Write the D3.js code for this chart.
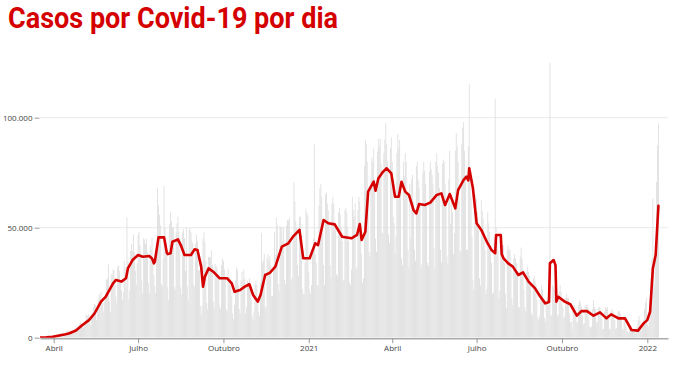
<!DOCTYPE html>
<html><head><meta charset="utf-8">
<script src="https://cdn.jsdelivr.net/npm/d3@7"></script>
<style>body{margin:0;background:#fff}svg{display:block}</style>
</head><body><svg id="chart" width="674" height="369"></svg>
<script>
// ---------- DATA ----------
const title = "Casos por Covid-19 por dia";
const startDate = "2020-03-17";
// daily new cases, in thousands, one value per day from startDate
const dailyCasesThousands = [
0.1,0.1,0.2,0.3,0.2,0.4,0.3,
0.3,0.2,0.5,0.5,0.5,0.4,0.3,
1.1,1.1,1.1,1.1,1.2,0.9,0.9,
1.7,2.2,1.9,1.8,1.1,1.4,1.3,
1.8,3.1,2.1,3.3,2.9,2.1,1.9,
2.3,2.7,3.7,3.5,5.5,3.4,4.6,
5.4,6.3,7.2,6.2,5.0,4.6,6.6,
6.9,10.5,9.9,10.2,10.6,6.8,5.6,
9.3,11.4,13.9,15.3,14.9,7.9,13.1,
17.4,20.0,18.5,20.8,16.5,15.8,11.7,
16.3,20.6,26.4,26.9,33.3,16.4,11.6,
28.9,28.6,30.9,30.8,27.1,18.9,15.7,
32.1,32.9,30.4,26.0,21.7,17.1,20.6,
34.9,32.2,22.8,54.8,34.7,17.5,21.4,
39.4,42.7,39.5,46.9,38.7,30.5,24.1,
33.8,46.7,48.1,42.2,37.9,26.1,20.2,
45.3,44.6,42.6,45.0,39.0,24.8,20.3,
41.9,39.9,45.4,34.2,28.5,23.5,20.3,
41.0,67.9,60.0,55.9,51.1,24.6,23.3,
36.0,69.1,50.0,45.0,38.0,23.0,17.0,
51.6,57.2,53.1,50.2,49.9,23.1,22.0,
48.0,52.0,55.0,48.0,40.0,23.0,19.4,
47.8,49.3,45.3,30.4,50.0,23.4,17.0,
49.0,50.0,48.0,44.0,43.0,24.0,23.0,
42.7,46.9,43.8,30.6,30.7,14.5,10.3,
14.3,45.0,48.0,43.7,35.0,16.0,13.0,
36.7,36.8,36.3,39.8,33.1,16.4,13.4,
33.5,32.8,31.9,28.4,29.0,14.3,13.2,
33.0,36.0,35.0,31.0,27.0,13.0,12.0,
31.4,27.7,27.4,26.0,19.2,11.0,8.4,
15.0,26.0,32.0,31.0,24.0,13.0,11.0,
26.0,30.0,26.0,31.0,27.0,11.0,14.0,
26.0,24.0,27.0,23.0,17.0,10.0,8.0,
12.0,24.0,26.0,24.0,16.0,12.0,10.0,
25.0,47.6,33.9,35.3,38.3,14.1,13.4,
36.0,38.0,35.0,37.0,33.0,19.0,19.0,
31.1,47.9,37.6,54.6,51.1,24.5,21.1,
50.9,49.9,50.4,43.8,50.0,26.3,24.3,
51.1,53.4,53.3,54.4,43.9,25.9,27.3,
44.0,70.6,62.0,53.0,50.0,33.0,28.0,
55.0,55.0,46.7,22.3,20.0,20.0,34.0,
58.7,56.8,55.6,30.0,22.0,20.0,24.0,
40.0,45.0,87.8,38.0,34.0,24.0,24.0,
60.0,68.0,70.0,64.0,52.0,33.0,24.0,
65.0,66.0,61.0,58.0,53.0,33.0,27.0,
61.0,64.0,61.0,52.0,50.0,29.0,28.0,
57.0,59.0,56.0,50.0,44.0,26.0,26.0,
58.0,59.0,57.0,50.0,44.0,25.0,24.0,
31.0,64.0,58.0,55.0,61.0,31.0,32.0,
58.0,64.0,62.0,52.0,38.0,25.0,27.0,
78.0,90.0,88.0,80.0,65.0,39.0,37.0,
72.0,82.0,80.0,86.0,72.0,45.0,39.0,
84.5,90.3,86.9,90.6,79.0,47.8,47.3,
84.0,90.0,97.6,88.0,80.0,47.0,43.0,
86.0,91.0,80.0,55.0,52.0,38.0,46.0,
84.0,92.6,86.0,90.0,68.0,36.0,33.0,
80.0,73.5,84.0,80.0,65.0,40.0,32.0,
70.0,45.0,72.0,74.0,62.0,40.0,35.0,
78.0,80.0,72.0,68.0,60.0,32.0,33.5,
75.0,80.0,76.0,70.0,60.0,34.0,32.7,
75.5,79.9,76.7,73.9,70.0,41.0,31.0,
80.0,84.0,78.0,75.0,68.0,40.0,34.2,
79.0,81.0,80.0,70.0,62.0,37.0,33.4,
72.0,85.0,52.0,65.0,57.0,38.0,47.5,
85.0,93.0,87.0,80.0,63.0,39.0,39.5,
88.0,95.4,98.0,85.0,73.0,40.0,40.0,
87.0,115.2,74.0,64.0,46.0,26.0,22.0,
64.0,65.0,63.0,57.0,49.0,27.0,23.6,
62.5,57.7,54.0,48.0,40.0,20.0,22.3,
57.0,52.0,48.0,42.0,34.0,20.0,20.7,
45.0,108.7,50.0,44.0,40.0,18.0,21.2,
46.0,46.0,42.0,42.0,34.0,20.0,13.6,
40.0,42.0,40.0,40.0,32.0,18.0,14.8,
36.0,38.0,36.0,34.0,30.0,14.0,13.6,
37.0,41.0,36.0,31.0,22.0,14.0,12.2,
30.0,32.0,30.0,28.0,24.0,11.0,10.2,
27.0,28.0,26.0,24.0,17.0,9.0,8.3,
10.0,20.0,24.0,22.0,17.0,9.0,7.2,
16.0,18.0,17.0,15.0,150.1,10.0,10.2,
24.0,23.0,22.0,17.0,16.0,10.0,10.5,
21.0,24.0,21.0,16.0,14.0,9.0,9.8,
18.0,20.0,18.0,18.0,11.0,7.0,7.4,
4.0,13.0,15.0,14.0,11.0,7.0,7.4,
15.0,17.0,16.0,14.0,10.0,6.0,6.7,
14.0,15.0,15.0,14.0,8.0,5.0,4.6,
5.0,13.0,17.0,14.0,13.0,7.0,7.3,
13.0,14.0,14.0,12.0,9.0,4.0,4.0,
12.0,14.0,13.0,14.0,10.0,4.0,3.7,
12.0,13.0,12.0,11.0,8.0,4.0,4.4,
11.0,12.0,12.0,11.0,8.0,3.6,4.0,
10.0,8.0,5.0,3.0,3.0,2.0,4.0,
3.0,4.0,4.0,4.0,3.0,2.0,3.1,
5.0,8.0,10.0,8.0,4.0,3.0,4.7,
8.0,13.0,16.0,18.0,6.0,5.0,7.5,
18.0,27.0,35.8,63.3,33.0,24.0,34.7,
70.8,87.5,97.4
];
// 7-day moving average (thousands) at these day offsets from startDate
const avgDayIndex = [0,7,14,21,28,32,39,46,53,59,
66,71,79,82,88,93,95,100,106,111,
118,121,123,124,128,134,137,138,141,143,
149,152,156,163,167,170,174,176,178,182,
187,194,202,207,210,216,221,226,230,235,
238,243,248,254,261,268,273,280,284,291,
297,300,306,311,318,326,336,342,345,347,
351,354,360,362,365,370,374,379,383,387,
390,394,398,403,406,409,415,421,428,433,
437,442,448,451,457,460,462,463,467,471,
476,482,487,491,492,497,498,500,505,510,
516,521,527,534,539,545,549,550,554,556,
557,559,566,572,579,584,590,597,604,611,
616,624,631,638,645,651,655,658,661,664,
667];
const avgThousands = [0.1,0.2,0.4,1.0,1.6,2.0,3.3,5.8,8.0,11.0,
16.4,18.6,24.7,26.2,25.5,27.0,31.5,35.3,37.6,36.8,
37.1,36.0,33.8,34.5,45.6,45.6,38.5,38.0,38.4,43.6,
44.7,42.1,37.6,37.6,40.2,39.9,32.3,23.2,27.7,31.5,
30.0,27.0,27.0,24.7,20.9,21.7,23.2,24.3,19.4,16.4,
19.4,28.5,29.5,32.3,41.4,42.9,45.9,49.0,36.1,36.1,
42.9,42.1,53.5,52.0,51.5,45.9,45.2,46.7,51.7,44.4,
48.2,66.4,70.9,66.8,72.4,75.4,77.0,74.7,64.1,64.1,
70.9,66.4,64.9,58.0,56.5,60.8,60.3,61.4,64.9,65.6,
60.3,65.3,58.8,67.1,71.7,73.2,71.5,77.0,67.9,52.0,
49.0,43.6,39.9,38.4,46.7,46.7,38.0,36.1,33.8,32.3,
28.5,29.7,25.5,22.4,19.1,15.6,16.2,33.8,35.3,33.0,
16.4,18.6,16.4,15.2,10.0,12.1,12.1,10.0,11.5,8.8,
10.6,8.8,8.8,3.5,3.2,6.5,8.0,11.8,31.5,37.6,
60.0];
const yTickValues = [0, 50000, 100000];
const yTickLabels = ["0", "50.000", "100.000"];
const xTickDates = ["2020-04-01","2020-07-01","2020-10-01","2021-01-01","2021-04-01","2021-07-01","2021-10-01","2022-01-01"];
const xTickLabels = ["Abril","Julho","Outubro","2021","Abril","Julho","Outubro","2022"];

// ---------- CHART ----------
const RED = "#d50000";
const svg = d3.select("#chart");
const parse = d3.utcParse("%Y-%m-%d");
const start = parse(startDate);
const DAY = 864e5;
const dayDate = i => new Date(start.getTime() + i * DAY);

const plotLeft = 40, plotRight = 668, plotTop = 62.7, plotBottom = 337.7;
const xCal = d3.scaleUtc().domain([parse("2020-04-01"), parse("2022-01-01")]).range([53.7, 647.3]);
const x = d3.scaleUtc().domain([xCal.invert(plotLeft), xCal.invert(plotRight)]).range([plotLeft, plotRight]);
const y = d3.scaleLinear().domain([0, 125000]).range([plotBottom, plotTop]);

svg.append("defs").append("clipPath").attr("id", "plotclip")
  .append("rect").attr("x", plotLeft).attr("y", plotTop)
  .attr("width", plotRight - plotLeft).attr("height", plotBottom - plotTop);

// gridlines
svg.append("g").selectAll("line").data(yTickValues.filter(v => v > 0)).join("line")
  .attr("x1", plotLeft).attr("x2", plotRight)
  .attr("y1", d => y(d)).attr("y2", d => y(d))
  .attr("stroke", "#ebebeb").attr("stroke-width", 1);

// bars
const step = x(dayDate(1)) - x(dayDate(0));
const bw = step * 0.9;
svg.append("g").attr("clip-path", "url(#plotclip)")
  .selectAll("rect").data(dailyCasesThousands).join("rect")
  .attr("x", (d, i) => x(dayDate(i)) - bw / 2)
  .attr("y", d => y(d * 1000))
  .attr("width", bw)
  .attr("height", d => plotBottom - y(d * 1000))
  .attr("fill", "#dedede");

// moving average line
const avgData = avgDayIndex.map((d, i) => ({ date: dayDate(d), v: avgThousands[i] * 1000 }));
svg.append("path").datum(avgData)
  .attr("clip-path", "url(#plotclip)")
  .attr("fill", "none").attr("stroke", RED).attr("stroke-width", 2.6)
  .attr("stroke-linejoin", "round").attr("stroke-linecap", "round")
  .attr("d", d3.line().x(d => x(d.date)).y(d => y(d.v)));

// y axis
const yAxis = svg.append("g").attr("transform", `translate(${plotLeft - 0.5},0)`)
  .call(d3.axisLeft(y).tickValues(yTickValues).tickFormat((d, i) => yTickLabels[i]).tickSize(5).tickPadding(2));
yAxis.select(".domain").remove();
yAxis.selectAll("line").attr("stroke", "#999");
yAxis.selectAll("text").attr("fill", "#444").style("font", "8px 'Open Sans', sans-serif");

// x axis
const xAxis = svg.append("g").attr("transform", `translate(0,${plotBottom + 0.5})`)
  .call(d3.axisBottom(x).tickValues(xTickDates.map(parse)).tickFormat((d, i) => xTickLabels[i]).tickSize(5).tickPadding(2).tickSizeOuter(0));
xAxis.select(".domain").attr("stroke", "#aaa").attr("stroke-width", 1.5);
xAxis.selectAll("line").attr("stroke", "#999");
xAxis.selectAll("text").attr("fill", "#444").style("font", "8px 'Open Sans', sans-serif");

// title
svg.append("text").attr("x", 8).attr("y", 28)
  .attr("textLength", 330).attr("lengthAdjust", "spacingAndGlyphs")
  .attr("fill", RED)
  .style("font", "bold 30px Roboto, 'Open Sans', sans-serif")
  .text(title);
</script>
</body></html>
